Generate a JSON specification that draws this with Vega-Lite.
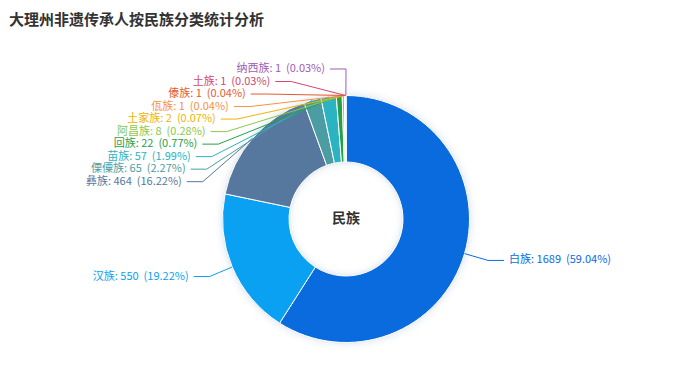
{
  "$schema": "https://vega.github.io/schema/vega-lite/v6.json",
  "width": 692,
  "height": 340,
  "autosize": {"type": "none"},
  "padding": {"left": 0, "right": 0, "top": 49, "bottom": 0},
  "background": "white",
  "view": {"stroke": null},
  "config": {"font": "Noto Sans CJK SC"},
  "title": {
    "text": "大理州非遗传承人按民族分类统计分析",
    "anchor": "start",
    "frame": "group",
    "fontSize": 15,
    "fontWeight": "bold",
    "color": "#333333",
    "font": "Noto Sans CJK SC",
    "offset": 21,
    "dx": 9
  },
  "data": {
    "values": [
      {"name": "白族", "value": 1689, "pct": "59.04"},
      {"name": "汉族", "value": 550, "pct": "19.22"},
      {"name": "彝族", "value": 464, "pct": "16.22"},
      {"name": "傈僳族", "value": 65, "pct": "2.27"},
      {"name": "苗族", "value": 57, "pct": "1.99"},
      {"name": "回族", "value": 22, "pct": "0.77"},
      {"name": "阿昌族", "value": 8, "pct": "0.28"},
      {"name": "土家族", "value": 2, "pct": "0.07"},
      {"name": "佤族", "value": 1, "pct": "0.04"},
      {"name": "傣族", "value": 1, "pct": "0.04"},
      {"name": "土族", "value": 1, "pct": "0.03"},
      {"name": "纳西族", "value": 1, "pct": "0.03"}
    ]
  },
  "transform": [
    {"window": [{"op": "row_number", "as": "idx"}]},
    {"joinaggregate": [{"op": "sum", "field": "value", "as": "total"}, {"op": "count", "as": "n"}]},
    {"window": [{"op": "sum", "field": "value", "as": "cum"}], "sort": [{"field": "idx"}], "frame": [null, 0]},
    {"calculate": "2*PI*(datum.cum - datum.value/2)/datum.total", "as": "mid"},
    {"calculate": "sin(datum.mid)", "as": "sx"},
    {"calculate": "cos(datum.mid)", "as": "sy"},
    {"calculate": "datum.sx >= 0 ? 1 : -1", "as": "side"},
    {"calculate": "datum.idx >= 3 ? 1.2146 - 0.10138*(datum.n - datum.idx) : 1.198*datum.sy", "as": "ly"},
    {"calculate": "datum.side*sqrt(max(0, 1.198*1.198 - datum.ly*datum.ly))", "as": "lx1"},
    {"calculate": "datum.lx1 + datum.side*0.13", "as": "lx2"},
    {"calculate": "datum.name + ': ' + datum.value + '\u00a0 (' + datum.pct + '%)'", "as": "label"}
  ],
  "layer": [
    {
      "data": {"values": [{"shadow": "outer"}]},
      "mark": {"type": "arc", "theta": 0, "theta2": 6.2832, "innerRadius": 50, "outerRadius": 131, "color": "#4a6c96", "opacity": 0.025}
    },
    {
      "data": {"values": [{"shadow": "mid"}]},
      "mark": {"type": "arc", "theta": 0, "theta2": 6.2832, "innerRadius": 53, "outerRadius": 128, "color": "#4a6c96", "opacity": 0.035}
    },
    {
      "data": {"values": [{"shadow": "inner"}]},
      "mark": {"type": "arc", "theta": 0, "theta2": 6.2832, "innerRadius": 55, "outerRadius": 125.5, "color": "#4a6c96", "opacity": 0.05}
    },
    {
      "mark": {"type": "arc", "innerRadius": 57, "outerRadius": 123.5, "stroke": "white", "strokeWidth": 1},
      "encoding": {
        "theta": {"field": "value", "type": "quantitative", "stack": true},
        "order": {"field": "idx", "type": "quantitative"},
        "color": {
          "field": "name", "type": "nominal", "legend": null,
          "scale": {
            "domain": ["白族", "汉族", "彝族", "傈僳族", "苗族", "回族", "阿昌族", "土家族", "佤族", "傣族", "土族", "纳西族"],
            "range": ["#096bde", "#0aa1f2", "#56789f", "#4c9da3", "#2cb3c2", "#25a049", "#8cc845", "#f2b300", "#f49342", "#e9592f", "#d0486f", "#a05cb2"]
          }
        }
      }
    },
    {
      "transform": [
        {"calculate": "[0,1,2]", "as": "pts"},
        {"flatten": ["pts"]},
        {"calculate": "datum.pts == 0 ? datum.sx : (datum.pts == 1 ? datum.lx1 : datum.lx2)", "as": "px"},
        {"calculate": "datum.pts == 0 ? datum.sy : datum.ly", "as": "py"}
      ],
      "mark": {"type": "line", "strokeWidth": 1},
      "encoding": {
        "x": {"field": "px", "type": "quantitative", "axis": null, "scale": {"domain": [-2.8016, 2.8016], "nice": false, "zero": false}},
        "y": {"field": "py", "type": "quantitative", "axis": null, "scale": {"domain": [-1.3765, 1.3765], "nice": false, "zero": false}},
        "detail": {"field": "name", "type": "nominal"},
        "order": {"field": "pts", "type": "quantitative"},
        "color": {"field": "name", "type": "nominal", "legend": null}
      }
    },
    {
      "transform": [{"filter": "datum.side < 0"}],
      "mark": {"type": "text", "align": "right", "baseline": "middle", "dx": -5, "fontSize": 11},
      "encoding": {
        "x": {"field": "lx2", "type": "quantitative", "axis": null},
        "y": {"field": "ly", "type": "quantitative", "axis": null},
        "text": {"field": "label"},
        "color": {"field": "name", "type": "nominal", "legend": null}
      }
    },
    {
      "transform": [{"filter": "datum.side > 0"}],
      "mark": {"type": "text", "align": "left", "baseline": "middle", "dx": 5, "fontSize": 11},
      "encoding": {
        "x": {"field": "lx2", "type": "quantitative", "axis": null},
        "y": {"field": "ly", "type": "quantitative", "axis": null},
        "text": {"field": "label"},
        "color": {"field": "name", "type": "nominal", "legend": null}
      }
    },
    {
      "data": {"values": [{"center": "民族"}]},
      "mark": {"type": "text", "fontSize": 14, "fontWeight": "bold", "color": "#333333", "baseline": "middle", "align": "center"},
      "encoding": {
        "text": {"field": "center"}
      }
    }
  ]
}
